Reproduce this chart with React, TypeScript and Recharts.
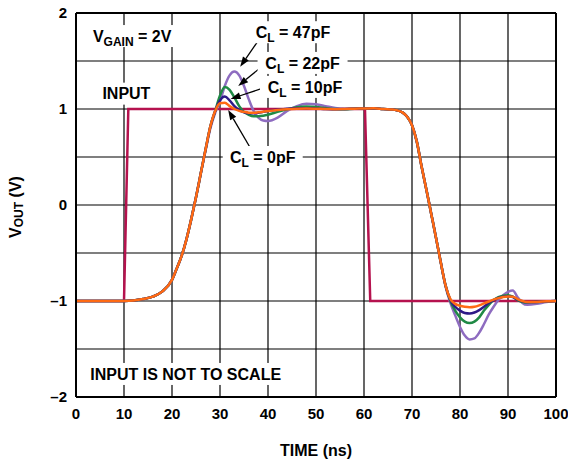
import { LineChart, Line, XAxis, YAxis, CartesianGrid, ReferenceLine, ReferenceDot } from 'recharts'

const FONT = '"Liberation Sans", Arial, Helvetica, sans-serif'

// time axis (ns) shared by the four output traces
const time = [
  0, 10, 12, 14, 16, 18, 20,
  21, 22, 23, 24, 25, 26, 27, 28, 29, 30, 31, 32, 33, 34, 35, 36, 37, 38, 39, 40,
  42, 44, 46, 48, 50, 52, 54, 56, 58, 60, 62, 64, 66,
  67, 68, 69, 70, 71, 72, 73, 74, 75, 76, 77, 78, 79, 80, 81, 82, 83, 84, 85, 86, 87, 88, 89, 90, 91, 92, 93, 94,
  96, 98, 100,
]

const cl0 = [
  -1, -1, -0.995, -0.98, -0.955, -0.9, -0.78,
  -0.66, -0.53, -0.36, -0.15, 0.08, 0.33, 0.58, 0.82, 0.98, 1.06, 1.065, 1.03, 1.0, 0.98, 0.97, 0.962, 0.96, 0.965, 0.972, 0.98,
  0.99, 0.998, 1.003, 1.005, 1.003, 1.0, 0.998, 1.0, 1.003, 1.005, 1.008, 1.0, 0.995,
  0.985, 0.965, 0.92, 0.83, 0.66, 0.4, 0.16, -0.09, -0.34, -0.6, -0.84, -0.98, -1.03, -1.05, -1.06, -1.065, -1.06, -1.045, -1.025, -1.005, -0.985, -0.97, -0.958, -0.952, -0.955, -0.98, -1.0, -1.01,
  -1.01, -1.003, -1.0,
]

const cl10 = [
  -1, -1, -0.995, -0.98, -0.955, -0.9, -0.78,
  -0.66, -0.53, -0.36, -0.15, 0.08, 0.33, 0.58, 0.82, 0.98, 1.09, 1.13, 1.09, 1.03, 0.99, 0.965, 0.955, 0.955, 0.96, 0.97, 0.978,
  0.992, 1.003, 1.008, 1.008, 1.005, 1.0, 0.998, 1.0, 1.003, 1.005, 1.008, 1.0, 0.995,
  0.985, 0.965, 0.92, 0.83, 0.66, 0.4, 0.16, -0.09, -0.34, -0.6, -0.84, -0.99, -1.06, -1.1, -1.125, -1.13, -1.12, -1.095, -1.06, -1.02, -0.99, -0.968, -0.955, -0.95, -0.958, -0.985, -1.003, -1.012,
  -1.01, -1.003, -1.0,
]

const cl22 = [
  -1, -1, -0.995, -0.98, -0.955, -0.9, -0.78,
  -0.66, -0.53, -0.36, -0.15, 0.08, 0.33, 0.58, 0.82, 0.98, 1.14, 1.23, 1.2, 1.12, 1.03, 0.97, 0.94, 0.925, 0.925, 0.93, 0.94,
  0.97, 0.997, 1.018, 1.025, 1.02, 1.01, 1.0, 0.998, 1.003, 1.005, 1.008, 1.0, 0.995,
  0.985, 0.965, 0.92, 0.83, 0.66, 0.4, 0.16, -0.09, -0.34, -0.6, -0.84, -1.0, -1.1, -1.17, -1.215, -1.23, -1.215, -1.17, -1.1, -1.04, -0.99, -0.96, -0.945, -0.94, -0.955, -0.99, -1.01, -1.015,
  -1.01, -1.003, -1.0,
]

const cl47 = [
  -1, -1, -0.995, -0.98, -0.955, -0.9, -0.78,
  -0.66, -0.53, -0.36, -0.15, 0.08, 0.33, 0.57, 0.8, 0.96, 1.08, 1.24, 1.35, 1.39, 1.35, 1.24, 1.1, 0.98, 0.91, 0.88, 0.875,
  0.91, 0.98, 1.03, 1.055, 1.05, 1.03, 1.01, 1.0, 1.003, 1.005, 1.008, 1.0, 0.995,
  0.985, 0.965, 0.92, 0.83, 0.66, 0.4, 0.16, -0.09, -0.34, -0.6, -0.85, -1.02, -1.15, -1.27, -1.36, -1.4, -1.39, -1.33, -1.24, -1.14, -1.06, -0.99, -0.94, -0.905, -0.89, -0.96, -1.02, -1.04,
  -1.03, -1.01, -1.0,
]

// input step (not to scale)
const inputTime = [0, 10, 10.9, 60.2, 61.3, 100]
const inputV = [-1, -1, 1, 1, -1, -1]

const xTicks = [0, 10, 20, 30, 40, 50, 60, 70, 80, 90, 100]
const yTicks = [-2, -1, 0, 1, 2]
const xGrid = [10, 20, 30, 40, 50, 60, 70, 80, 90]
const yGrid = [-1.5, -1, -0.5, 0, 0.5, 1, 1.5]

const rows = time.map((t, i) => ({ t, cl0: cl0[i], cl10: cl10[i], cl22: cl22[i], cl47: cl47[i] }))
const inputRows = inputTime.map((t, i) => ({ t, v: inputV[i] }))

const notes = [
  { x: 11.7, y: 1.76, main: 'V', sub: 'GAIN', tail: ' = 2V', w: 92 },
  { x: 10.5, y: 1.16, main: 'INPUT', sub: '', tail: '', w: 56 },
  { x: 45.2, y: 1.8, main: 'C', sub: 'L', tail: ' = 47pF', w: 86 },
  { x: 47.2, y: 1.48, main: 'C', sub: 'L', tail: ' = 22pF', w: 90 },
  { x: 47.7, y: 1.23, main: 'C', sub: 'L', tail: ' = 10pF', w: 90 },
  { x: 38.9, y: 0.5, main: 'C', sub: 'L', tail: ' = 0pF', w: 80 },
  { x: 22.85, y: -1.76, main: 'INPUT IS NOT TO SCALE', sub: '', tail: '', w: 204 },
]

const arrows = [
  { from: { x: 37.8, y: 1.7 }, to: { x: 34.2, y: 1.44 } },
  { from: { x: 38.9, y: 1.45 }, to: { x: 33.8, y: 1.24 } },
  { from: { x: 39.7, y: 1.23 }, to: { x: 32.2, y: 1.105 } },
  { from: { x: 36.6, y: 0.57 }, to: { x: 31.7, y: 0.99 } },
]

const noteShape = (n: typeof notes[number]) => (p: any) => (
  <g>
    <rect x={p.cx - n.w / 2} y={p.cy - 11} width={n.w} height={22} fill="#fff" />
    <text
      x={p.cx}
      y={p.cy + 5.8}
      textAnchor="middle"
      fontFamily={FONT}
      fontWeight="bold"
      fontSize={16}
      fill="#000"
      style={{ whiteSpace: 'pre' }}
    >
      {n.main}
      {n.sub ? <tspan dy={4} fontSize={12}>{n.sub}</tspan> : null}
      {n.sub ? <tspan dy={-4}>{n.tail}</tspan> : null}
    </text>
  </g>
)

const arrowShape = (p: any) => {
  const { x1, y1, x2, y2 } = p
  const a = Math.atan2(y2 - y1, x2 - x1)
  const len = 10
  const half = 3.5
  const bx = x2 - len * Math.cos(a)
  const by = y2 - len * Math.sin(a)
  const pts = [
    `${x2},${y2}`,
    `${bx - half * Math.sin(a)},${by + half * Math.cos(a)}`,
    `${bx + half * Math.sin(a)},${by - half * Math.cos(a)}`,
  ].join(' ')
  return (
    <g>
      <line x1={x1} y1={y1} x2={bx} y2={by} stroke="#000" strokeWidth={1.3} />
      <polygon points={pts} fill="#000" />
    </g>
  )
}

const tickStyle = { fill: '#000', fontSize: 15, fontWeight: 'bold', fontFamily: FONT }

const App = () => {
  return (
    <div style={{ position: 'absolute', left: 0, top: 0, width: 568, height: 463, background: '#fff' }}>
      <LineChart width={568} height={463} data={rows} margin={{ top: 13, right: 12, left: 16, bottom: 36 }}>
        <CartesianGrid stroke="#000" strokeWidth={1.2} horizontalValues={yGrid} verticalValues={xGrid} />
        <XAxis
          type="number"
          dataKey="t"
          domain={[0, 100]}
          ticks={xTicks}
          interval={0}
          allowDataOverflow
          tickLine={false}
          tickSize={0}
          tickMargin={11}
          height={30}
          axisLine={{ stroke: '#000', strokeWidth: 2 }}
          tick={tickStyle}
        />
        <YAxis
          type="number"
          domain={[-2, 2]}
          ticks={yTicks}
          interval={0}
          allowDataOverflow
          tickLine={false}
          tickSize={0}
          tickMargin={9}
          width={60}
          axisLine={{ stroke: '#000', strokeWidth: 2 }}
          tick={tickStyle}
          tickFormatter={(v: number) => (v < 0 ? `\u2013${-v}` : `${v}`)}
        />
        <ReferenceLine y={2} stroke="#000" strokeWidth={2} />
        <ReferenceLine x={100} stroke="#000" strokeWidth={2} />
        {notes.map((n) => (
          <ReferenceDot key={n.main + n.tail} x={n.x} y={n.y} r={0} ifOverflow="visible" shape={noteShape(n)} />
        ))}
        <Line data={inputRows} dataKey="v" type="linear" stroke="#B5124E" strokeWidth={2.5} dot={false} isAnimationActive={false} />
        <Line dataKey="cl47" type="monotone" stroke="#8E6CC0" strokeWidth={2.5} dot={false} isAnimationActive={false} />
        <Line dataKey="cl22" type="monotone" stroke="#1F8A45" strokeWidth={2.5} dot={false} isAnimationActive={false} />
        <Line dataKey="cl10" type="monotone" stroke="#2E1A87" strokeWidth={2.5} dot={false} isAnimationActive={false} />
        <Line dataKey="cl0" type="monotone" stroke="#FF6A13" strokeWidth={2.5} dot={false} isAnimationActive={false} />
        {arrows.map((a, i) => (
          <ReferenceLine key={i} segment={[a.from, a.to]} ifOverflow="visible" shape={arrowShape} />
        ))}
      </LineChart>
      <svg width={568} height={463} style={{ position: 'absolute', left: 0, top: 0, pointerEvents: 'none' }}>
        <text
          x={15}
          y={207}
          transform="rotate(-90, 15, 207)"
          textAnchor="middle"
          dominantBaseline="central"
          fontFamily={FONT}
          fontWeight="bold"
          fontSize={16}
          fill="#000"
          style={{ whiteSpace: 'pre' }}
        >
          V<tspan dy={4} fontSize={12}>OUT</tspan>
          <tspan dy={-4}> (V)</tspan>
        </text>
        <text x={316} y={455.5} textAnchor="middle" fontFamily={FONT} fontWeight="bold" fontSize={16} fill="#000">
          TIME (ns)
        </text>
      </svg>
    </div>
  )
}

export default App
